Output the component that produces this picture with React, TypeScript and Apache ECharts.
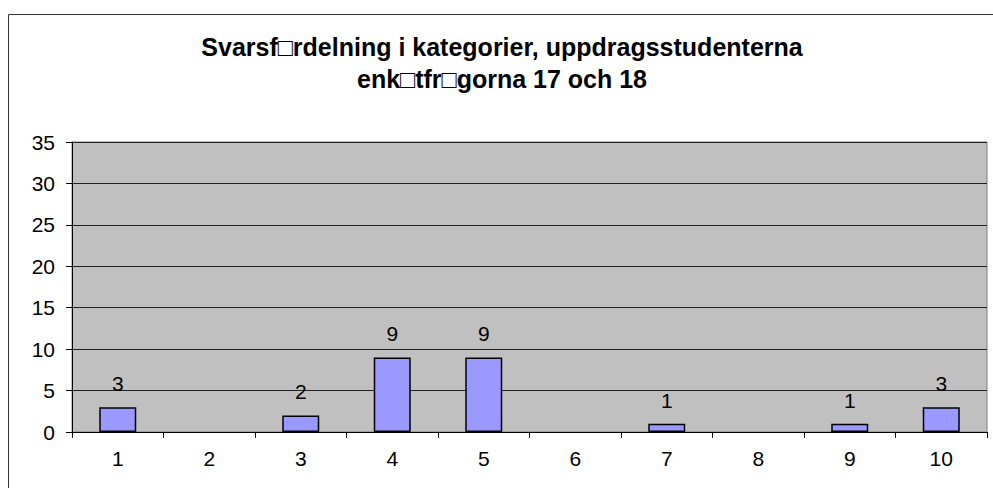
import React, { useEffect, useRef } from "react";
import * as echarts from "echarts";

const titleLines = ["Svarsf\u25A1rdelning i kategorier, uppdragsstudenterna", "enk\u25A1tfr\u25A1gorna 17 och 18"];
const categories = ["1", "2", "3", "4", "5", "6", "7", "8", "9", "10"];
const values = [3, 0, 2, 9, 9, 0, 1, 0, 1, 3];
const yTicks = { min: 0, max: 35, interval: 5 };

const FONT = "Arial, 'Liberation Sans', sans-serif";

export default function App() {
  const ref = useRef<HTMLDivElement>(null);
  useEffect(() => {
    if (!ref.current) return;
    const chart = echarts.init(ref.current, undefined, { renderer: "svg" });
    chart.setOption({
      animation: false,
      backgroundColor: "#ffffff",
      title: {
        text: titleLines.join("\n"),
        left: 497,
        top: 26,
        textAlign: "center",
        textStyle: {
          fontFamily: FONT,
          fontWeight: "bold",
          fontSize: 25,
          lineHeight: 32,
          color: "#000",
        },
      },
      graphic: [
        {
          type: "rect",
          shape: { x: 8.5, y: 14.5, width: 1100, height: 600 },
          style: { fill: "none", stroke: "#333", lineWidth: 1 },
          silent: true,
          z: 100,
        },
      ],
      grid: {
        left: 72,
        top: 142,
        right: 6,
        bottom: 56,
        show: true,
        backgroundColor: "#C0C0C0",
        borderColor: "#808080",
        borderWidth: 1,
      },
      xAxis: {
        type: "category",
        data: categories,
        boundaryGap: true,
        axisLine: { show: true, lineStyle: { color: "#000", width: 1 } },
        axisTick: { show: true, length: 6, lineStyle: { color: "#000" } },
        axisLabel: { fontFamily: FONT, fontSize: 21, color: "#000", margin: 16 },
        splitLine: { show: false },
      },
      yAxis: {
        type: "value",
        min: yTicks.min,
        max: yTicks.max,
        interval: yTicks.interval,
        axisLine: { show: true, lineStyle: { color: "#000", width: 1 } },
        axisTick: { show: true, length: 6, lineStyle: { color: "#000" } },
        axisLabel: { fontFamily: FONT, fontSize: 21, color: "#000", margin: 17 },
        splitLine: { show: true, lineStyle: { color: "#222", width: 1 } },
      },
      series: [
        {
          type: "bar",
          data: values.map((v) => (v === 0 ? null : v)),
          barWidth: 37,
          itemStyle: { color: "#9999FF", borderColor: "#000", borderWidth: 1.5 },
          label: {
            show: true,
            position: "top",
            distance: 13,
            fontFamily: FONT,
            fontSize: 21,
            color: "#000",
          },
        },
      ],
    });
    return () => chart.dispose();
  }, []);
  return (
    <div
      ref={ref}
      style={{ position: "fixed", left: 0, top: 0, width: 993, height: 488 }}
    />
  );
}
